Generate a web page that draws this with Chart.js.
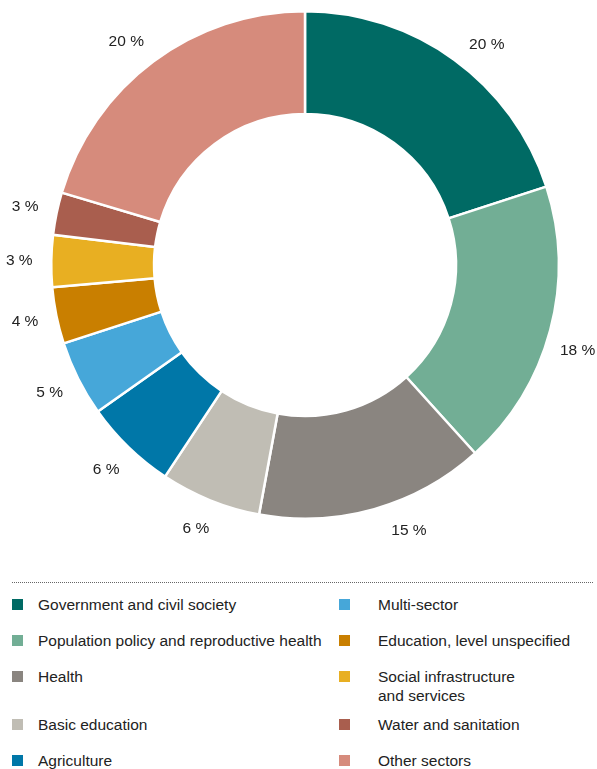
<!DOCTYPE html>
<html>
<head>
<meta charset="utf-8">
<script src="https://cdn.jsdelivr.net/npm/chart.js@4"></script>
<style>
  body { margin: 0; background: #fff; font-family: "Liberation Sans", Arial, sans-serif; color: #222; }
  #wrap { position: relative; width: 597px; height: 769px; }
  #chartBox { position: absolute; left: 0; top: 0; width: 597px; height: 575px; }
  #rule { position: absolute; left: 12px; right: 4px; top: 582px; border-top: 1px dotted #666; }
  .item { position: absolute; font-size: 15.5px; line-height: 19px; }
  .item .sw { position: absolute; left: 0; top: 4px; width: 11px; height: 11px; }
  .item .tx { position: absolute; white-space: nowrap; }
</style>
</head>
<body>
<div id="wrap">
  <div id="chartBox"><canvas id="donut"></canvas></div>
  <div id="rule"></div>
  <div id="legend"></div>
</div>
<script>
// Sector shares (%)
const sectors = ['Government and civil society', 'Population policy and reproductive health', 'Health',
  'Basic education', 'Agriculture', 'Multi-sector', 'Education, level unspecified',
  'Social infrastructure\nand services', 'Water and sanitation', 'Other sectors'];
const shares = [20.0, 18.3, 14.6, 6.4, 5.9, 4.8, 3.6, 3.3, 2.7, 20.4];
const colors = ['#006a64', '#72ae95', '#8a8580', '#c0bdb4', '#0077a8',
  '#46a7d9', '#c97f00', '#e8af22', '#a95e4e', '#d68b7c'];

// Percent labels just outside the ring (small angle nudges, in degrees, like the original)
const labelNudge = [3.5, 2.5, -5.5, 0.5, 0, 0, 0, 0, 0, -2];
const outsideLabels = {
    id: 'outsideLabels',
    afterDatasetsDraw(chart) {
        const ctx = chart.ctx;
        const meta = chart.getDatasetMeta(0);
        ctx.save();
        ctx.font = '15.5px "Liberation Sans", Arial, sans-serif';
        ctx.fillStyle = '#222';
        ctx.textAlign = 'center';
        ctx.textBaseline = 'middle';
        meta.data.forEach((arc, i) => {
            const mid = (arc.startAngle + arc.endAngle) / 2 + labelNudge[i] * Math.PI / 180;
            const r = arc.outerRadius + 32;
            const x = arc.x + Math.cos(mid) * r;
            const y = arc.y + Math.sin(mid) * r;
            ctx.fillText(Math.round(shares[i]) + ' %', x, y);
        });
        ctx.restore();
    }
};

const donut = new Chart(document.getElementById('donut').getContext('2d'), {
    type: 'doughnut',
    data: {
        labels: sectors,
        datasets: [{
            data: shares,
            backgroundColor: colors,
            borderColor: '#fff',
            borderWidth: 2.5
        }]
    },
    options: {
        responsive: true,
        maintainAspectRatio: false,
        animation: false,
        cutout: '59.5%',
        layout: { padding: { left: 50, right: 37, top: 10, bottom: 55 } },
        plugins: {
            legend: { display: false },
            tooltip: { enabled: false }
        }
    },
    plugins: [outsideLabels]
});

// Two-column legend under the dotted rule
const rowsY = [595, 631, 667, 715, 751];
const legend = document.getElementById('legend');
sectors.forEach((name, i) => {
    const col = i < 5 ? 0 : 1;
    const row = i % 5;
    const el = document.createElement('div');
    el.className = 'item';
    el.style.left = (col ? 339 : 12) + 'px';
    el.style.top = rowsY[row] + 'px';
    el.innerHTML = '<span class="sw" style="background:' + colors[i] + '"></span>' +
        '<span class="tx" style="left:' + (col ? 39 : 26) + 'px">' + name.replace('\n', '<br>') + '</span>';
    legend.appendChild(el);
});
</script>
</body>
</html>
